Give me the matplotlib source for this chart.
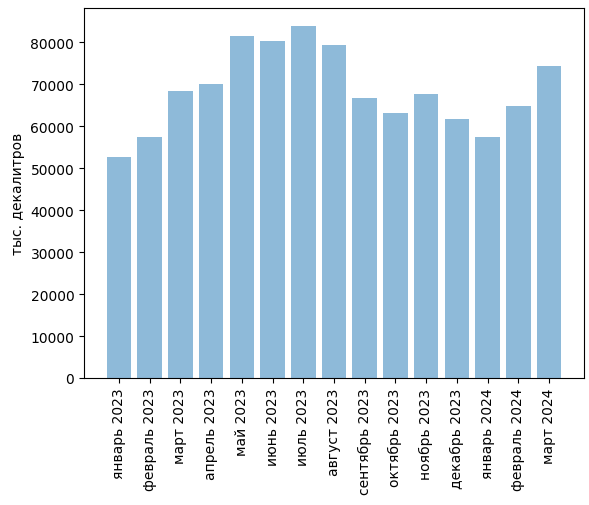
import matplotlib
matplotlib.use("Agg")
import matplotlib.pyplot as plt

# месяцы и объемы (тыс. декалитров)
months = ["январь 2023", "февраль 2023", "март 2023", "апрель 2023", "май 2023",
          "июнь 2023", "июль 2023", "август 2023", "сентябрь 2023", "октябрь 2023",
          "ноябрь 2023", "декабрь 2023", "январь 2024", "февраль 2024", "март 2024"]
values = [52600, 57400, 68550, 70000, 81600, 80400, 84000, 79450, 66650, 63100,
          67600, 61650, 57400, 64750, 74450]

fig, ax = plt.subplots(figsize=(5.89, 5.06), dpi=100)
fig.subplots_adjust(left=0.1426, right=0.9915, top=0.982, bottom=0.251)

ax.bar(range(len(months)), values, color="#1f77b4", alpha=0.5)
ax.set_xticks(range(len(months)))
ax.set_xticklabels(months, rotation=90)
ax.set_ylabel("тыс. декалитров")

fig.savefig("out.png", dpi=100)
